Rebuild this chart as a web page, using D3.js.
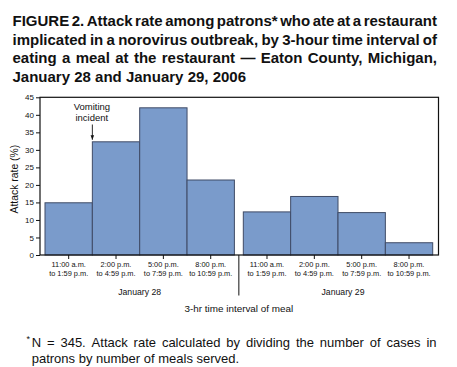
<!DOCTYPE html>
<html><head><meta charset="utf-8">
<script src="https://cdn.jsdelivr.net/npm/d3@7"></script>
<style>
body{margin:0;background:#fff}
svg{display:block}
text{font-family:"Liberation Sans",Arial,Helvetica,sans-serif;fill:#111}
</style>
</head><body>
<svg id="c" width="457" height="367"></svg>
<script>
// ---- data ----
const days = ["January 28", "January 29"];
const periods = ["11-2", "2-5", "5-8", "8-11"];
const periodStart = ["11:00 a.m.", "2:00 p.m.", "5:00 p.m.", "8:00 p.m."];
const periodEnd = ["to 1:59 p.m.", "to 4:59 p.m.", "to 7:59 p.m.", "to 10:59 p.m."];
const jan28Rates = [14.9, 32.3, 42.0, 21.4];
const jan29Rates = [12.3, 16.7, 12.1, 3.5];
const yTicks = [0, 5, 10, 15, 20, 25, 30, 35, 40, 45];
const titleLines = [
  "FIGURE 2. Attack rate among patrons* who ate at a restaurant",
  "implicated in a norovirus outbreak, by 3-hour time interval of",
  "eating a meal at the restaurant \u2014 Eaton County, Michigan,",
  "January 28 and January 29, 2006"
];
const footLines = [
  "N = 345. Attack rate calculated by dividing the number of cases in",
  "patrons by number of meals served."
];
const yTitle = "Attack rate (%)";
const xTitle = "3-hr time interval of meal";
const annotation = ["Vomiting", "incident"];

const rates = { "January 28": jan28Rates, "January 29": jan29Rates };

// ---- layout ----
const svg = d3.select("#c");
const frame = { left: 40, right: 438.5, top: 97.3, bottom: 255 };

const y = d3.scaleLinear().domain([0, 45]).range([frame.bottom, frame.top]);
const xDay = d3.scaleBand().domain(days).range([45, 432.7]).paddingInner(0.045);
const xPer = d3.scaleBand().domain(periods).range([0, xDay.bandwidth()]);

// justified text helper
function lineText(str, x0, x1, yy, size, weight, just) {
  const t = svg.append("text").attr("y", yy)
    .style("font-size", size + "px").style("font-weight", weight);
  const words = str.split(" ");
  const spans = words.map(w => t.append("tspan").text(w));
  const widths = spans.map(s => s.node().getComputedTextLength());
  const total = d3.sum(widths);
  const space = t.append("tspan").text("\u00a0");
  const sw = space.node().getComputedTextLength();
  space.remove();
  const gap = just ? (x1 - x0 - total) / (words.length - 1) : sw;
  let cx = x0;
  spans.forEach((s, i) => { s.attr("x", cx); cx += widths[i] + gap; });
  return t;
}

// title
const titleBase = [26, 44.5, 63, 81.5];
titleLines.forEach((l, i) => lineText(l, 12.5, 437, titleBase[i], 15, "bold", i < 3));

// bars
const barFill = "#7a9bcb", barStroke = "#3f4b66";
days.forEach(d => {
  const g = svg.append("g").attr("transform", `translate(${xDay(d)},0)`);
  g.selectAll("rect").data(periods).join("rect")
    .attr("x", p => xPer(p))
    .attr("width", xPer.bandwidth())
    .attr("y", (p, i) => y(rates[d][i]))
    .attr("height", (p, i) => y(0) - y(rates[d][i]))
    .attr("fill", barFill).attr("stroke", barStroke).attr("stroke-width", 1);

  // x ticks
  const ax = g.append("g").attr("transform", `translate(0,${frame.bottom})`)
    .call(d3.axisBottom(xPer).tickSize(4).tickFormat(""));
  ax.select(".domain").remove();
  ax.selectAll("line").attr("stroke", "#111");

  // tick labels (two lines)
  periods.forEach((p, i) => {
    const cx = xPer(p) + xPer.bandwidth() / 2;
    const t = g.append("text").attr("text-anchor", "middle").style("font-size", "7.4px");
    t.append("tspan").attr("x", cx).attr("y", 267).text(periodStart[i]);
    t.append("tspan").attr("x", cx).attr("y", 276).text(periodEnd[i]);
  });

  g.append("text").attr("x", xDay.bandwidth() / 2 + (d === days[1] ? 5 : 0)).attr("y", 295)
    .attr("text-anchor", "middle").style("font-size", "8.7px").text(d);
});

// frame box
svg.append("rect").attr("x", frame.left).attr("y", frame.top)
  .attr("width", frame.right - frame.left).attr("height", frame.bottom - frame.top)
  .attr("fill", "none").attr("stroke", "#111").attr("stroke-width", 1.2);

// divider between days
const divX = (xDay(days[0]) + xDay.bandwidth() + xDay(days[1])) / 2;
svg.append("line").attr("x1", divX).attr("x2", divX)
  .attr("y1", frame.bottom).attr("y2", 295.5).attr("stroke", "#111").attr("stroke-width", 1);

// y axis
const yAx = svg.append("g").attr("transform", `translate(${frame.left},0)`)
  .call(d3.axisLeft(y).tickValues(yTicks).tickSize(4).tickPadding(2));
yAx.select(".domain").remove();
yAx.selectAll("line").attr("stroke", "#111");
yAx.selectAll("text").style("font-size", "8px").style("font-family", '"Liberation Sans",Arial,sans-serif').attr("fill", "#111");

// axis titles
svg.append("text").attr("transform", `translate(17.5,${(frame.top + frame.bottom) / 2 + 3}) rotate(-90)`)
  .attr("text-anchor", "middle").style("font-size", "10.4px").text(yTitle);
svg.append("text").attr("x", divX).attr("y", 311.5).attr("text-anchor", "middle")
  .style("font-size", "9.9px").text(xTitle);

// annotation
const arrowX = xDay(days[0]) + xPer(periods[1]);
svg.append("text").attr("x", arrowX - 0.5).attr("y", 110).attr("text-anchor", "middle")
  .style("font-size", "9.5px").text(annotation[0]);
svg.append("text").attr("x", arrowX - 0.5).attr("y", 121).attr("text-anchor", "middle")
  .style("font-size", "9.5px").text(annotation[1]);
svg.append("defs").append("marker").attr("id", "ah").attr("viewBox", "0 0 10 10")
  .attr("refX", 10).attr("refY", 5).attr("markerWidth", 5).attr("markerHeight", 5)
  .attr("orient", "auto").append("path").attr("d", "M0,1 L10,5 L0,9 Z").attr("fill", "#111");
svg.append("line").attr("x1", arrowX).attr("x2", arrowX).attr("y1", 124.5).attr("y2", y(jan28Rates[1]) - 2)
  .attr("stroke", "#111").attr("stroke-width", 0.9).attr("marker-end", "url(#ah)");

// footnote
svg.append("text").attr("x", 26.5).attr("y", 342).style("font-size", "9px").text("*");
lineText(footLines[0], 31.7, 436.5, 347, 13, "normal", true);
lineText(footLines[1], 31.7, 436.5, 363, 13, "normal", false);
</script>
</body></html>
